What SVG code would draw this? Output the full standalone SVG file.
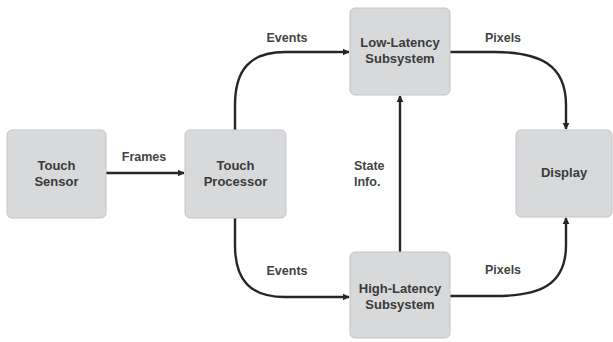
<svg xmlns="http://www.w3.org/2000/svg" width="613" height="342" viewBox="0 0 613 342">
<style>
.box{fill:#d8d9db;stroke:#c4c5c8;stroke-width:1}
.t{font-family:"Liberation Sans",Arial,sans-serif;font-weight:bold;font-size:13px;fill:#3a3a3a;text-anchor:middle}
.l{font-family:"Liberation Sans",Arial,sans-serif;font-weight:bold;font-size:12.5px;fill:#444}
.c{fill:none;stroke:#262626;stroke-width:2.4}
</style>
<defs>
<marker id="ah" viewBox="0 0 10 10" refX="9" refY="5" markerWidth="3" markerHeight="3" orient="auto" markerUnits="strokeWidth">
<path d="M0,0 L10,5 L0,10 z" fill="#262626"/>
</marker>
</defs>
<rect width="613" height="342" fill="#ffffff"/>
<g id="connectors">
<path class="c" d="M106,173 H184" marker-end="url(#ah)"/>
<path class="c" d="M235,130 V105 C235,70 250,52 285,52 H349" marker-end="url(#ah)"/>
<path class="c" d="M235,218 V245 C235,280 250,297 285,297 H349" marker-end="url(#ah)"/>
<path class="c" d="M400,252 V96" marker-end="url(#ah)"/>
<path class="c" d="M450,52 H495 C540,52 566,65 566,105 V129" marker-end="url(#ah)"/>
<path class="c" d="M450,296 H495 C540,296 566,285 566,245 V218" marker-end="url(#ah)"/>
<text class="l" x="144" y="161" text-anchor="middle">Frames</text>
<text class="l" x="287" y="42" text-anchor="middle">Events</text>
<text class="l" x="287" y="275" text-anchor="middle">Events</text>
<text class="l" x="503" y="42" text-anchor="middle">Pixels</text>
<text class="l" x="503" y="274" text-anchor="middle">Pixels</text>
<text class="l" x="354" y="170">State</text>
<text class="l" x="354" y="186">Info.</text>
</g>
<g id="touch-sensor">
<rect class="box" x="7" y="130" width="99" height="88" rx="5"/>
<text class="t" x="56.5" y="170">Touch</text>
<text class="t" x="56.5" y="186">Sensor</text>
</g>
<g id="touch-processor">
<rect class="box" x="185" y="130" width="101" height="88" rx="5"/>
<text class="t" x="235.5" y="170">Touch</text>
<text class="t" x="235.5" y="186">Processor</text>
</g>
<g id="low-latency">
<rect class="box" x="350" y="8" width="100" height="87" rx="5"/>
<text class="t" x="400" y="47">Low-Latency</text>
<text class="t" x="400" y="63">Subsystem</text>
</g>
<g id="high-latency">
<rect class="box" x="350" y="252" width="100" height="86" rx="5"/>
<text class="t" x="400" y="293">High-Latency</text>
<text class="t" x="400" y="309">Subsystem</text>
</g>
<g id="display">
<rect class="box" x="516" y="130" width="96" height="87" rx="5"/>
<text class="t" x="564" y="177">Display</text>
</g>
</svg>
